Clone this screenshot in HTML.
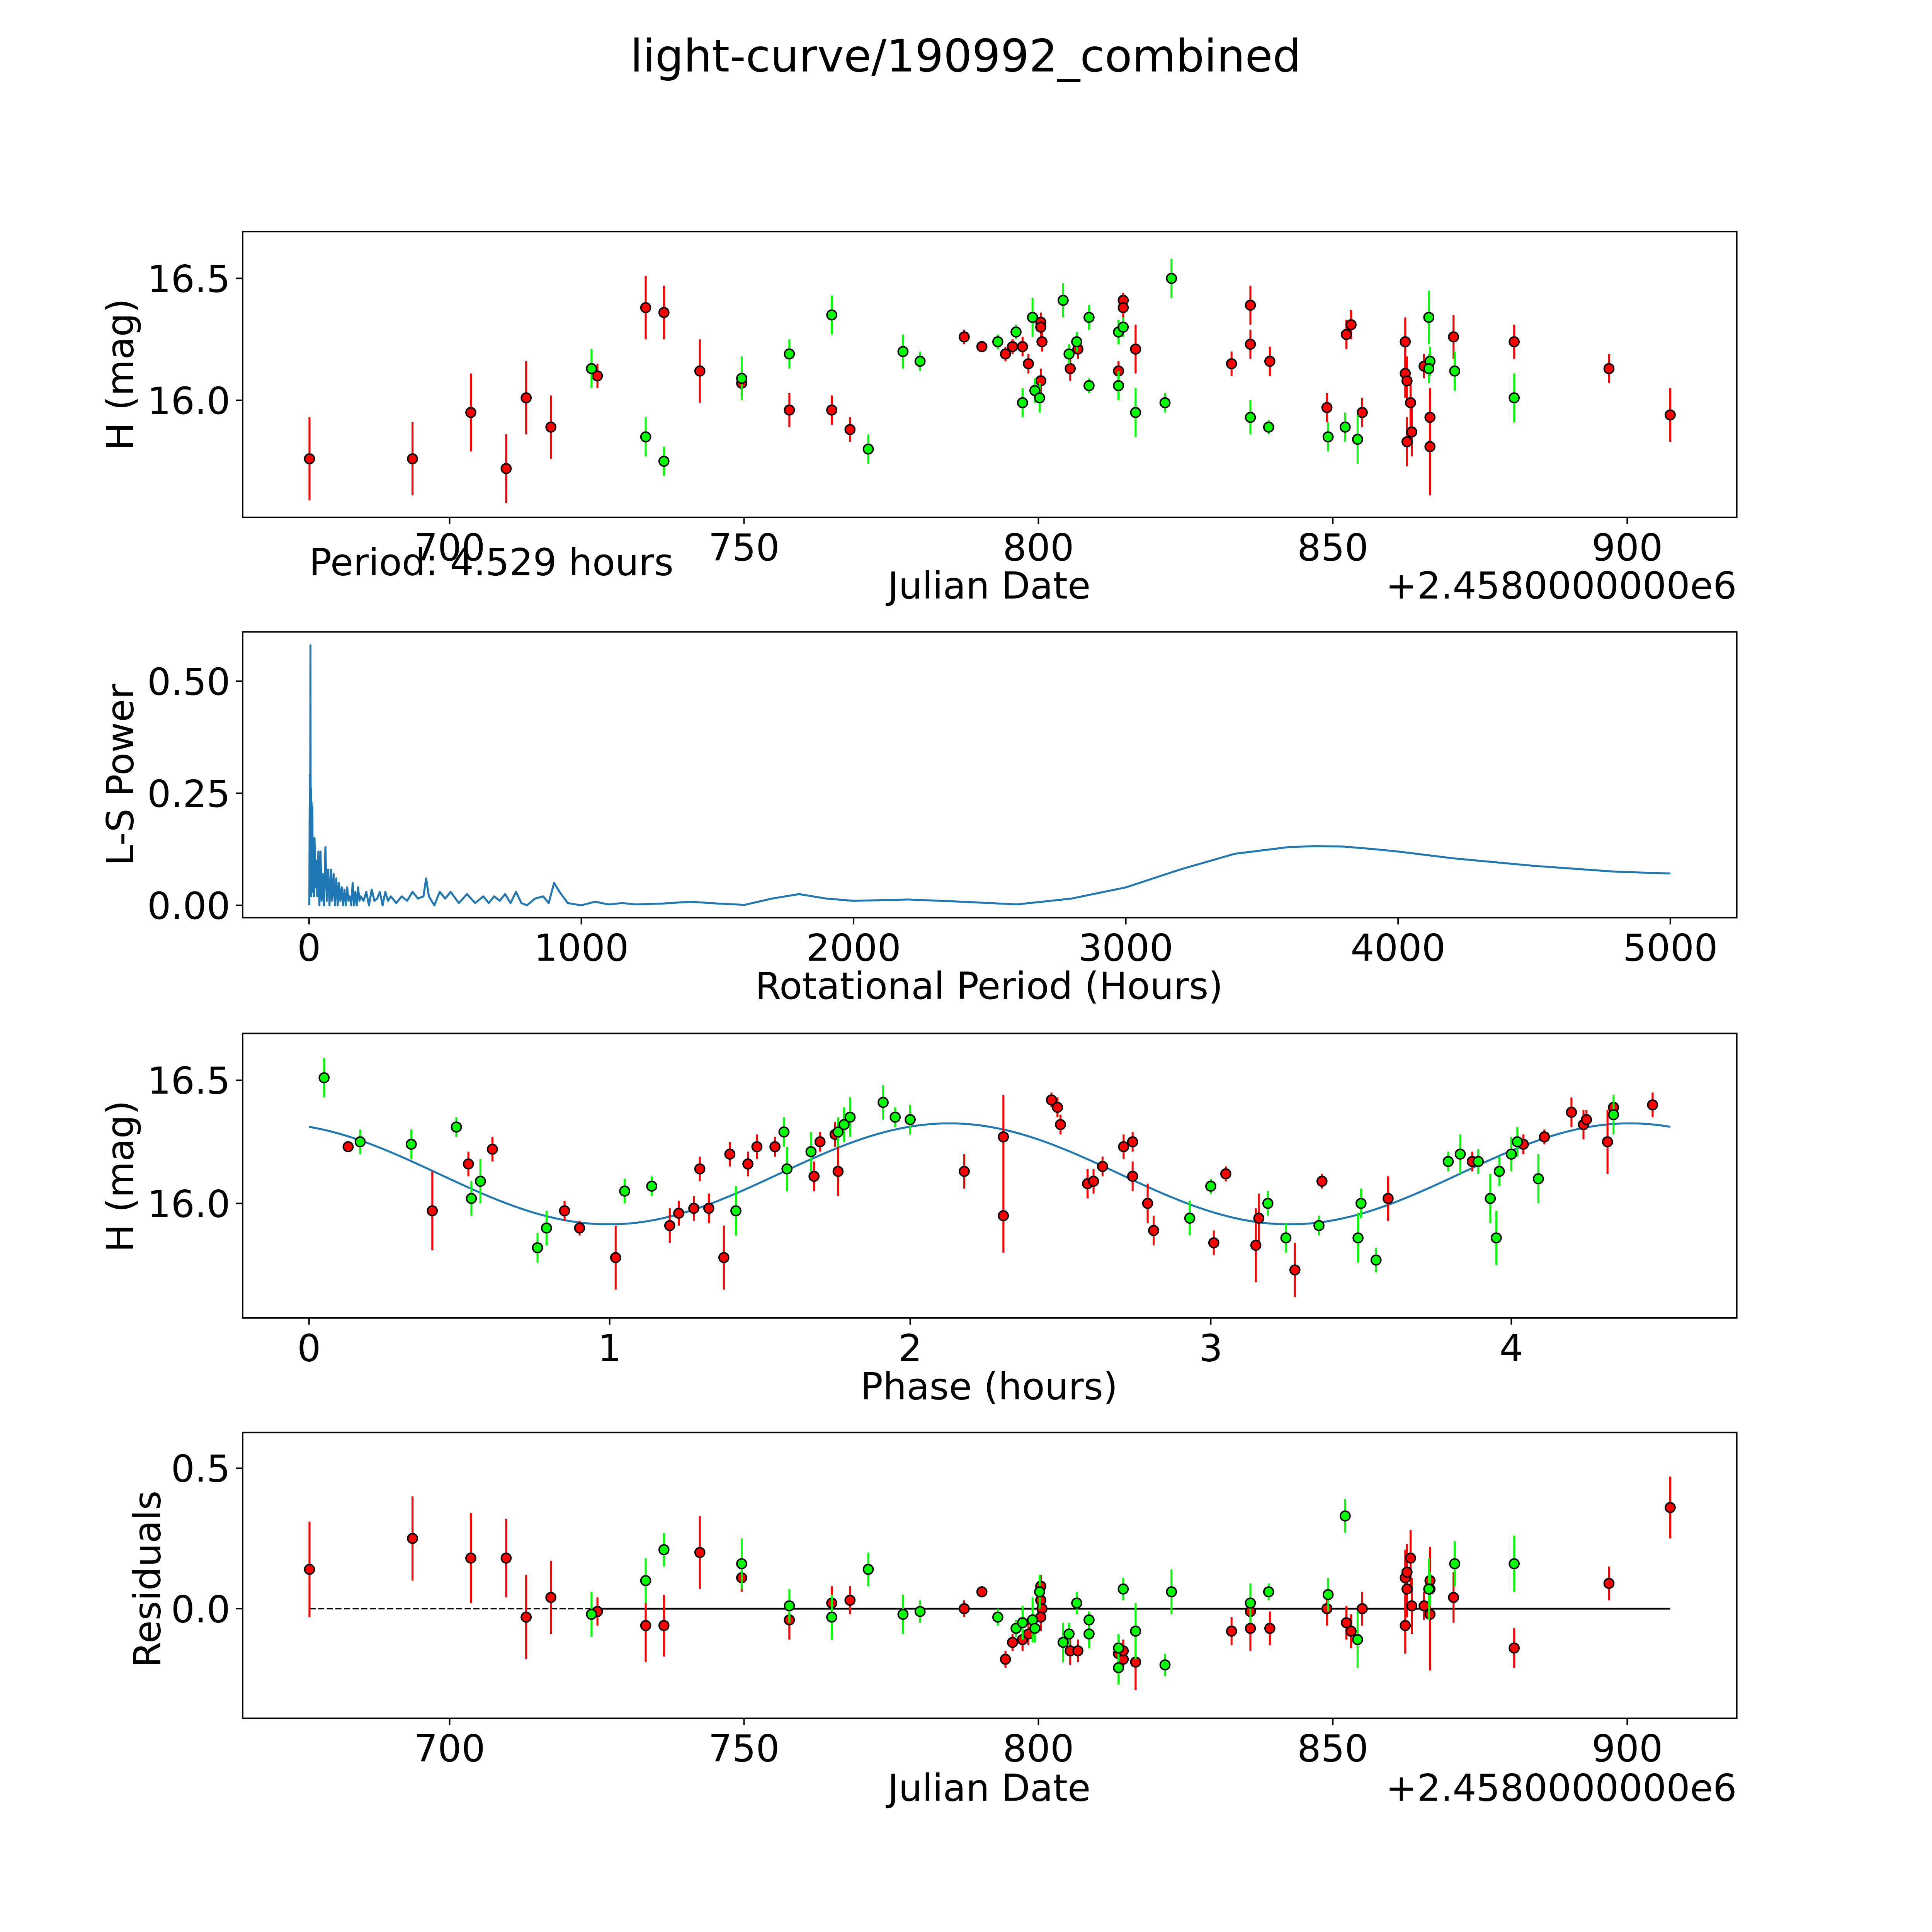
<!DOCTYPE html>
<html><head><meta charset="utf-8">
<style>
html,body{margin:0;padding:0;background:#fff;overflow:hidden;width:5400px;height:5400px}
svg{display:block}
text{font-family:"DejaVu Sans","Liberation Sans",sans-serif;fill:#000}
</style></head>
<body>
<svg id="fig" width="5400" height="5400" viewBox="0 0 1694 1694" preserveAspectRatio="xMinYMin meet" style="width:5400px;height:5400px" xmlns="http://www.w3.org/2000/svg">
<rect width="1694" height="1694" fill="#fff"/>
<text x="784" y="58" font-size="36.4" text-anchor="middle">light-curve/190992_combined</text>
</svg>
<script>
// ---- Panel 1: light curve (Julian date - 2458000, H mag, error) ----
const lcRedJD=[676.2,693.7,703.6,709.6,713.0,717.2,725.1,733.3,736.4,742.5,749.6,757.7,764.9,768.0,787.4,790.4,794.4,795.6,797.3,798.3,800.4,800.4,800.6,800.4,805.4,806.7,813.6,814.4,814.4,816.5,832.8,836.0,836.0,839.3,849.0,852.3,853.1,855.0,862.3,862.3,862.6,863.2,862.6,863.4,865.5,866.5,866.5,870.5,880.8,896.9,907.3];
const lcRedMag=[15.76,15.76,15.95,15.72,16.01,15.89,16.10,16.38,16.36,16.12,16.07,15.96,15.96,15.88,16.26,16.22,16.19,16.22,16.22,16.15,16.32,16.30,16.24,16.08,16.13,16.21,16.12,16.41,16.38,16.21,16.15,16.39,16.23,16.16,15.97,16.27,16.31,15.95,16.24,16.11,16.08,15.99,15.83,15.87,16.14,15.93,15.81,16.26,16.24,16.13,15.94];
const lcRedErr=[0.17,0.15,0.16,0.14,0.15,0.13,0.05,0.13,0.11,0.13,0.05,0.07,0.06,0.05,0.03,0.02,0.03,0.03,0.04,0.04,0.04,0.04,0.04,0.05,0.05,0.04,0.04,0.03,0.04,0.10,0.05,0.08,0.06,0.06,0.06,0.06,0.06,0.06,0.10,0.10,0.10,0.10,0.10,0.10,0.05,0.12,0.20,0.09,0.07,0.06,0.11];
const lcGrnJD=[724.1,733.3,736.4,749.6,757.7,764.9,771.1,777.0,779.9,793.1,796.2,797.3,799.0,799.4,800.2,804.2,805.2,806.5,808.6,808.6,813.6,813.6,814.4,816.5,821.5,822.6,836.0,839.1,849.2,852.1,854.2,866.3,866.5,866.3,870.7,880.8];
const lcGrnMag=[16.13,15.85,15.75,16.09,16.19,16.35,15.80,16.20,16.16,16.24,16.28,15.99,16.34,16.04,16.01,16.41,16.19,16.24,16.06,16.34,16.28,16.06,16.30,15.95,15.99,16.50,15.93,15.89,15.85,15.89,15.84,16.34,16.16,16.13,16.12,16.01];
const lcGrnErr=[0.08,0.08,0.06,0.09,0.06,0.08,0.06,0.07,0.04,0.03,0.03,0.06,0.08,0.05,0.06,0.07,0.04,0.04,0.03,0.05,0.05,0.06,0.04,0.10,0.04,0.08,0.07,0.03,0.06,0.06,0.10,0.11,0.06,0.06,0.08,0.10];
const jdTicks=[700,750,800,850,900];
const magTicks=[16.0,16.5];
const magTickLabels=["16.0","16.5"];

// ---- Panel 2: Lomb-Scargle periodogram ----
const lsPeriod=[1,2,3,4,5,6,7,8,9,10,12,14,16,18,20,23,26,30,34,38,42,46,50,55,60,65,70,75,80,85,90,95,100,105,110,115,120,125,130,135,140,145,150,155,160,165,170,175,180,185,190,200,210,220,230,240,250,260,270,280,290,300,320,340,360,380,400,420,430,440,460,480,500,520,550,580,610,640,660,680,700,720,740,760,780,800,830,860,880,900,920,950,980,1000,1050,1100,1150,1200,1300,1400,1500,1600,1700,1800,1900,2000,2200,2400,2600,2800,3000,3200,3400,3600,3700,3800,3900,4000,4200,4500,4800,5000];
const lsPower=[0.0,0.20,0.29,0.05,0.58,0.10,0.26,0.02,0.23,0.05,0.22,0.03,0.14,0.02,0.15,0.04,0.10,0.02,0.12,0.0,0.12,0.01,0.07,0.0,0.13,0.01,0.08,0.0,0.08,0.01,0.07,0.0,0.06,0.0,0.05,0.01,0.04,0.0,0.035,0.0,0.04,0.01,0.02,0.0,0.05,0.0,0.03,0.0,0.04,0.01,0.02,0.01,0.03,0.0,0.035,0.01,0.015,0.03,0.0,0.03,0.01,0.02,0.005,0.02,0.01,0.03,0.015,0.02,0.06,0.02,0.0,0.03,0.015,0.03,0.005,0.025,0.005,0.02,0.005,0.02,0.01,0.025,0.005,0.03,0.005,0.0,0.015,0.02,0.005,0.05,0.03,0.005,0.002,0.0,0.008,0.002,0.005,0.002,0.004,0.008,0.004,0.001,0.015,0.025,0.015,0.01,0.013,0.008,0.002,0.015,0.04,0.08,0.115,0.13,0.132,0.131,0.126,0.12,0.105,0.088,0.075,0.071];
const lsXTicks=[0,1000,2000,3000,4000,5000];
const lsYTicks=[0,0.25,0.5];
const lsYTickLabels=["0.00","0.25","0.50"];

// ---- Panel 3: phase folded ----
const phGrnPh=[0.05,0.17,0.34,0.49,0.54,0.57,0.76,0.79,1.05,1.14,1.42,1.58,1.59,1.67,1.76,1.78,1.80,1.91,1.95,2.00,2.93,3.00,3.19,3.25,3.36,3.49,3.50,3.55,3.79,3.83,3.89,3.93,3.95,3.96,4.00,4.02,4.09,4.34];
const phGrnMag=[16.51,16.25,16.24,16.31,16.02,16.09,15.82,15.90,16.05,16.07,15.97,16.29,16.14,16.21,16.29,16.32,16.35,16.41,16.35,16.34,15.94,16.07,16.00,15.86,15.91,15.86,16.00,15.77,16.17,16.20,16.17,16.02,15.86,16.13,16.20,16.25,16.10,16.36];
const phGrnErr=[0.08,0.05,0.06,0.04,0.07,0.09,0.06,0.07,0.05,0.04,0.1,0.06,0.09,0.08,0.06,0.07,0.08,0.07,0.04,0.06,0.07,0.03,0.05,0.06,0.04,0.1,0.06,0.05,0.04,0.08,0.05,0.1,0.11,0.06,0.07,0.06,0.1,0.08];
const phRedPh=[0.13,0.41,0.53,0.61,0.85,0.90,1.02,1.20,1.23,1.28,1.30,1.33,1.38,1.40,1.46,1.49,1.55,1.68,1.70,1.75,1.76,2.18,2.31,2.31,2.47,2.49,2.50,2.59,2.61,2.64,2.71,2.74,2.74,2.79,2.81,3.01,3.05,3.15,3.16,3.28,3.37,3.59,3.87,4.04,4.11,4.20,4.24,4.25,4.32,4.34,4.47];
const phRedMag=[16.23,15.97,16.16,16.22,15.97,15.90,15.78,15.91,15.96,15.98,16.14,15.98,15.78,16.20,16.16,16.23,16.23,16.11,16.25,16.28,16.13,16.13,16.27,15.95,16.42,16.39,16.32,16.08,16.09,16.15,16.23,16.25,16.11,16.00,15.89,15.84,16.12,15.83,15.94,15.73,16.09,16.02,16.17,16.24,16.27,16.37,16.32,16.34,16.25,16.39,16.40];
const phRedErr=[0.02,0.16,0.05,0.05,0.04,0.03,0.13,0.07,0.05,0.05,0.05,0.06,0.13,0.05,0.05,0.05,0.04,0.06,0.04,0.05,0.1,0.07,0.17,0.15,0.03,0.04,0.04,0.06,0.05,0.04,0.05,0.04,0.06,0.08,0.06,0.05,0.03,0.15,0.1,0.11,0.03,0.09,0.04,0.04,0.03,0.06,0.06,0.04,0.13,0.04,0.05];
const fitMean=[16.12];
const fitAmp=[0.205];
const fitPeakPhase=[2.13];
const fitPeriod=[4.529];
const phXTicks=[0,1,2,3,4];

// ---- Panel 4: residuals ----
const resRedJD=lcRedJD;
const resRedVal=[0.14,0.25,0.18,0.18,-0.03,0.04,-0.01,-0.06,-0.06,0.20,0.11,-0.04,0.02,0.03,0.00,0.06,-0.18,-0.12,-0.11,-0.09,0.08,0.03,0.00,-0.03,-0.15,-0.15,-0.16,-0.18,-0.15,-0.19,-0.08,-0.07,-0.01,-0.07,0.00,-0.05,-0.08,0.00,-0.06,0.11,0.13,0.18,0.07,0.01,0.01,0.10,-0.02,0.04,-0.14,0.09,0.36];
const resRedErr=lcRedErr;
const resGrnJD=lcGrnJD;
const resGrnVal=[-0.02,0.10,0.21,0.16,0.01,-0.03,0.14,-0.02,-0.01,-0.03,-0.07,-0.05,-0.04,-0.07,0.06,-0.12,-0.09,0.02,-0.04,-0.09,-0.14,-0.21,0.07,-0.08,-0.20,0.06,0.02,0.06,0.05,0.33,-0.11,0.07,0.07,0.07,0.16,0.16];
const resGrnErr=lcGrnErr;
const resYTicks=[0,0.5];
const resYTickLabels=["0.0","0.5"];

const NS="http://www.w3.org/2000/svg";
const fig=document.getElementById('fig');
function mk(tag,attrs,parent){const e=document.createElementNS(NS,tag);for(const k in attrs)e.setAttribute(k,attrs[k]);(parent||fig).appendChild(e);return e;}
function scale(d0,d1,p0,p1){return v=>p0+(v-d0)*(p1-p0)/(d1-d0);}
const X0=197,X1=1410;
const FS=30.3;

function makePanel(name,y0,y1,xd0,xd1,yd0,yd1){
  const g=mk('g',{});
  
  
  return {g,x:scale(xd0,xd1,X0,X1),y:scale(yd0,yd1,y1,y0),y0,y1};
}
function frame(P){
  const r=mk('rect',{x:X0,y:P.y0,width:X1-X0,height:P.y1-P.y0,fill:'none',stroke:'#000','stroke-width':1.2},P.g);
  
  
}
function xTicks(P,vals,labels){
  vals.forEach((v,i)=>{
    const px=P.x(v);
    mk('line',{x1:px,x2:px,y1:P.y1,y2:P.y1+5.5,stroke:'#000','stroke-width':1.2},P.g);
    const t=mk('text',{x:px,y:P.y1+35,'font-size':FS,'text-anchor':'middle'},P.g);
    
    
    t.textContent=labels[i];
  });
}
function yTicks(P,vals,labels){
  vals.forEach((v,i)=>{
    const py=P.y(v);
    mk('line',{x1:X0-5.5,x2:X0,y1:py,y2:py,stroke:'#000','stroke-width':1.2},P.g);
    const t=mk('text',{x:X0-10,y:py+11,'font-size':FS,'text-anchor':'end'},P.g);
    
    
    t.textContent=labels[i];
  });
}
function label(P,txt,x,y,rot,nm,anchor){
  const t=mk('text',{x:x,y:y,'font-size':FS,'text-anchor':anchor||'middle'},P.g);
  if(rot)t.setAttribute('transform','rotate(-90 '+x+' '+y+')');
  
  
  t.textContent=txt;
}
function points(P,xs,ys,es,color,nm){
  const g=mk('g',{},P.g);
  
  
  xs.forEach((xv,i)=>{
    const px=P.x(xv);
    mk('line',{x1:px,x2:px,y1:P.y(ys[i]-es[i]),y2:P.y(ys[i]+es[i]),stroke:color,'stroke-width':1.6},g);
  });
  xs.forEach((xv,i)=>{
    const c=mk('circle',{cx:P.x(xv),cy:P.y(ys[i]),r:3.9,fill:color,stroke:'#000','stroke-width':1.2},g);
    
    
  });
}

// Panel 1
const P1=makePanel('light-curve-panel',188,420,664.85,918.6,15.520,16.692);
points(P1,lcRedJD,lcRedMag,lcRedErr,'#ff0000','red-series');
points(P1,lcGrnJD,lcGrnMag,lcGrnErr,'#00ff00','green-series');
frame(P1);
xTicks(P1,jdTicks,jdTicks.map(String));
yTicks(P1,magTicks,magTickLabels);
label(P1,'H (mag)',108,304,true,'y-axis-title');
label(P1,'Julian Date',803,486,false,'x-axis-title');
label(P1,'+2.4580000000e6',1410,486,false,'x-offset-label','end');
label(P1,'Period: 4.529 hours',251,467,false,'period-annotation','start');

// Panel 2
const P2=makePanel('periodogram-panel',513,745,-244,5244,-0.0275,0.610);
let d='';
lsPeriod.forEach((p,i)=>{d+=(i?'L':'M')+P2.x(p).toFixed(2)+' '+P2.y(lsPower[i]).toFixed(2);});
const lsLine=mk('path',{d:d,fill:'none',stroke:'#1f77b4','stroke-width':1.6,'stroke-linejoin':'round'},P2.g);


frame(P2);
xTicks(P2,lsXTicks,lsXTicks.map(String));
yTicks(P2,lsYTicks,lsYTickLabels);
label(P2,'L-S Power',108,629,true,'y-axis-title');
label(P2,'Rotational Period (Hours)',803,811,false,'x-axis-title');

// Panel 3
const P3=makePanel('phase-panel',839,1070,-0.221,4.75,15.535,16.69);
let d3='';
for(let k=0;k<=200;k++){
  const ph=fitPeriod[0]*k/200;
  const m=fitMean[0]+fitAmp[0]*Math.cos(2*Math.PI*(ph-fitPeakPhase[0])/(fitPeriod[0]/2));
  d3+=(k?'L':'M')+P3.x(ph).toFixed(2)+' '+P3.y(m).toFixed(2);
}
const fitLine=mk('path',{d:d3,fill:'none',stroke:'#1f77b4','stroke-width':1.6},P3.g);


points(P3,phRedPh,phRedMag,phRedErr,'#ff0000','red-series');
points(P3,phGrnPh,phGrnMag,phGrnErr,'#00ff00','green-series');
frame(P3);
xTicks(P3,phXTicks,phXTicks.map(String));
yTicks(P3,magTicks,magTickLabels);
label(P3,'H (mag)',108,955,true,'y-axis-title');
label(P3,'Phase (hours)',803,1136,false,'x-axis-title');

// Panel 4
const P4=makePanel('residuals-panel',1163,1395,664.85,918.6,-0.390,0.627);
const zl=mk('line',{x1:P4.x(676.2),x2:P4.x(907.3),y1:P4.y(0),y2:P4.y(0),stroke:'#000','stroke-width':1.2,'stroke-dasharray':'5,2'},P4.g);


const sl=mk('line',{x1:P4.x(724.1),x2:P4.x(907.3),y1:P4.y(0),y2:P4.y(0),stroke:'#000','stroke-width':1.5},P4.g);


points(P4,resRedJD,resRedVal,resRedErr,'#ff0000','red-series');
points(P4,resGrnJD,resGrnVal,resGrnErr,'#00ff00','green-series');
frame(P4);
xTicks(P4,jdTicks,jdTicks.map(String));
yTicks(P4,resYTicks,resYTickLabels);
label(P4,'Residuals',130,1282,true,'y-axis-title');
label(P4,'Julian Date',803,1462,false,'x-axis-title');
label(P4,'+2.4580000000e6',1410,1462,false,'x-offset-label','end');
</script>
</body></html>
